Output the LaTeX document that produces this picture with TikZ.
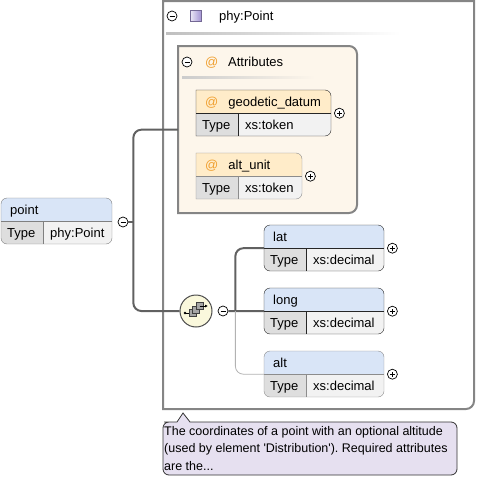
\documentclass[tikz,border=0pt]{standalone}
\usepackage{fontspec}
\newfontfamily\uifont{Liberation Sans}
\usetikzlibrary{arrows.meta}
\frenchspacing
\definecolor{elemhead}{HTML}{D9E5F7}
\definecolor{attrhead}{HTML}{FFECC9}
\definecolor{typecell}{HTML}{DEDEDE}
\definecolor{valcell}{HTML}{F2F2F2}
\definecolor{groupfill}{HTML}{FDF6EB}
\definecolor{framegray}{HTML}{858585}
\definecolor{atsign}{HTML}{F0A030}
\definecolor{seqfill}{HTML}{FAF8DC}
\definecolor{notefill}{HTML}{E6E0F0}
\definecolor{iconviolet}{HTML}{A494D4}

\tikzset{
  btn/.style={circle, draw=black, fill=white, inner sep=0pt, minimum size=10pt, line width=0.7pt},
  minusbtn/.style={btn, path picture={
    \draw[line width=0.7pt] ([xshift=-2.5pt]path picture bounding box.center) -- ([xshift=2.5pt]path picture bounding box.center);}},
  plusbtn/.style={btn, path picture={
    \draw[line width=0.7pt] ([xshift=-2.5pt]path picture bounding box.center) -- ([xshift=2.5pt]path picture bounding box.center)
      ([yshift=-2.5pt]path picture bounding box.center) -- ([yshift=2.5pt]path picture bounding box.center);}},
  conn/.style={draw=black!62, line width=2pt},
  optconn/.style={draw=black!30, line width=0.8pt},
  lbl/.style={anchor=base west, inner sep=0pt},
  hole/.style={inner sep=0pt, anchor=north west},
}

% #1 name, #2 x, #3 y, #4 width, #5 label, #6 type, #7 header fill, #8 border, #9 left corners
\newcommand{\xsdbox}[9]{%
  \begin{scope}
    \clip (#2,#3+23) [#9] -- (#2,#3) -- (#2+20,#3) [rounded corners=6pt] -- (#2+#4,#3) -- (#2+#4,#3+46) -- (#2+20,#3+46) [#9] -- (#2,#3+46) -- cycle;
    \fill[#7] (#2,#3) rectangle (#2+#4,#3+23);
    \fill[typecell] (#2,#3+23) rectangle (#2+42,#3+46);
    \fill[valcell] (#2+42,#3+23) rectangle (#2+#4,#3+46);
  \end{scope}
  \draw[#8] (#2,#3+23) [#9] -- (#2,#3) -- (#2+20,#3) [rounded corners=6pt] -- (#2+#4,#3) -- (#2+#4,#3+46) -- (#2+20,#3+46) [#9] -- (#2,#3+46) -- cycle;
  \draw[#8] (#2,#3+23) -- (#2+#4,#3+23) (#2+42,#3+23) -- (#2+42,#3+46);
  \node[hole, minimum width=#4pt, minimum height=46pt] (#1) at (#2,#3) {};
  \node[lbl] (#1-name) at (#2+9,#3+16.5) {#5};
  \node[lbl] (#1-type) at (#2+6,#3+39.5) {Type};
  \node[lbl] (#1-val) at (#2+49,#3+39.5) {#6};
}

\begin{document}
\begin{tikzpicture}[x=1pt, y=-1pt, font=\uifont\fontsize{13}{15}\selectfont]
\useasboundingbox (0,0) rectangle (477,479);

% complex type frame
\draw[framegray, line width=2pt] (163,200) -- (163,409) -- (300,409) [rounded corners=8pt] -- (474,409) -- (474,200) [sharp corners] -- (474,1) -- (163,1) -- cycle;
\node[minusbtn] (tmin) at (172,16) {};
\node[draw=iconviolet!70!black, inner sep=0pt, minimum size=11pt, left color=iconviolet!20, right color=iconviolet] (ticon) at (195.5,15.5) {};
\node[lbl] (tname) at (219,20.5) {phy:Point};
\shade[left color=black!25, middle color=black!60, right color=white] (166,32) rectangle (400,34);

% attributes group
\draw[framegray, line width=2pt, fill=groupfill] (178,130) -- (178,46) -- (268,46) [rounded corners=8pt] -- (357,46) -- (357,213) -- (268,213) [sharp corners] -- (178,213) -- cycle;
\node[hole, minimum width=179pt, minimum height=167pt] (attrs) at (178,46) {};
\node[minusbtn] (amin) at (187,62) {};
\node[lbl, text=atsign] (aat) at (205,66.5) {@};
\node[lbl] (aname) at (228,66.5) {Attributes};
\shade[left color=black!20, middle color=black!55, right color=groupfill] (182,76) rectangle (315,78);

\xsdbox{geo}{196}{90}{135}{\textcolor{atsign}{@}\hspace{10pt}geodetic\_datum}{xs:token}{attrhead}{black!85}{sharp corners}
\xsdbox{altunit}{196}{153}{106}{\textcolor{atsign}{@}\hspace{10pt}alt\_unit}{xs:token}{attrhead}{black!45}{sharp corners}
\xsdbox{point}{1}{198}{111}{point}{phy:Point}{elemhead}{black!50}{rounded corners=6pt}
\xsdbox{lat}{264}{225}{120}{lat}{xs:decimal}{elemhead}{black!85}{rounded corners=6pt}
\xsdbox{long}{264}{288}{120}{long}{xs:decimal}{elemhead}{black!85}{rounded corners=6pt}
\xsdbox{alt}{264}{351}{120}{alt}{xs:decimal}{elemhead}{black!45}{rounded corners=6pt}

\foreach \b in {geo,altunit,lat,long,alt}
  \node[plusbtn] (\b-plus) at ([xshift=8pt]\b.east) {};

% sequence compositor
\node[minusbtn] (pmin) at (123,222) {};
\node[circle, draw=black!70, fill=seqfill, minimum size=32pt, line width=1pt] (seq) at (196,311) {};
\foreach \d in {0,1,2}
  \draw[fill=black!35, draw=black!75, line width=0.5pt] ([shift={(-7+3.5*\d,-1.5-3.5*\d)}]seq.center) rectangle ++(7,7);
\draw[line width=0.8pt] ([shift={(-11,2)}]seq.center) -- ([shift={(-7,2)}]seq.center);
\fill ([shift={(-11,2)}]seq.center) circle (1.3);
\draw[line width=0.8pt, -{Latex[length=3pt,width=3pt]}] ([shift={(3.5,-5)}]seq.center) -- ([shift={(12,-5)}]seq.center);
\node[minusbtn] (smin) at (223,311) {};

\coordinate (pfork) at ([xshift=5pt]pmin.east);
\coordinate (sfork) at ([xshift=7pt]smin.east);
\draw[conn] (pmin.east) -- (pfork);
\draw[conn, rounded corners=8pt] (attrs.west) -| (pfork) |- (seq.west);
\draw[conn, rounded corners=8pt] (lat.west) -| (sfork);
\draw[conn] (smin.east) -- (long.west);
\draw[optconn, rounded corners=8pt] (sfork) |- (alt.west);

% annotation
\draw[black!80, fill=notefill, line width=0.8pt] (170,422) -- (177,422) -- (183,413) -- (190,422) -- (300,422) [rounded corners=6pt] -- (457,422) -- (457,475) -- (163,475) -- (163,422) -- cycle;
\node[hole, align=left, font=\uifont\fontsize{12.5}{17.5}\selectfont] (note) at (164,426) {The coordinates of a point with an optional altitude\\(used by element 'Distribution'). Required attributes\\are the...};
\end{tikzpicture}
\end{document}
